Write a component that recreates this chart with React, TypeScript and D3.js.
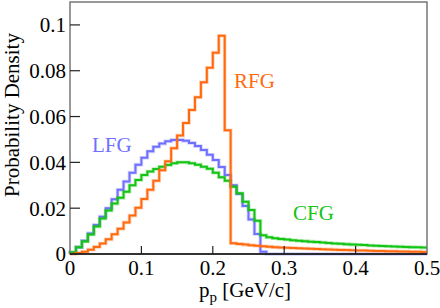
import React from 'react';
import * as d3 from 'd3';

// 60 bins of equal width over 0..0.5 GeV/c
const binEdgesMax = 0.5;
const nBins = 60;

const rfg = [
  0.0000, 0.0004, 0.0010, 0.0019, 0.0031, 0.0046, 0.0064, 0.0086, 0.0110, 0.0138,
  0.0168, 0.0202, 0.0240, 0.0280, 0.0320, 0.0366, 0.0405, 0.0462, 0.0517, 0.0572,
  0.0629, 0.0684, 0.0750, 0.0813, 0.0879, 0.0953, 0.0540, 0.0047, 0.0044, 0.0041,
  0.0038, 0.0036, 0.0034, 0.0032, 0.0030, 0.0028, 0.0027, 0.0026, 0.0025, 0.0024,
  0.0023, 0.0022, 0.0021, 0.0020, 0.0019, 0.0018, 0.0017, 0.0016, 0.0015, 0.0015,
  0.0014, 0.0013, 0.0013, 0.0012, 0.0012, 0.0011, 0.0011, 0.0010, 0.0010, 0.0009,
];

const lfg = [
  0.0005, 0.0030, 0.0058, 0.0090, 0.0127, 0.0163, 0.0200, 0.0239, 0.0280, 0.0316,
  0.0355, 0.0390, 0.0420, 0.0448, 0.0468, 0.0482, 0.0492, 0.0498, 0.0498, 0.0494,
  0.0485, 0.0471, 0.0454, 0.0433, 0.0410, 0.0380, 0.0345, 0.0300, 0.0262, 0.0210,
  0.0151, 0.0087, 0.0010, 0, 0, 0, 0, 0, 0, 0,
  0, 0, 0, 0, 0, 0, 0, 0, 0, 0,
  0, 0, 0, 0, 0, 0, 0, 0, 0, 0,
];

const cfg = [
  0.0008, 0.0030, 0.0055, 0.0085, 0.0120, 0.0155, 0.0190, 0.0220, 0.0245, 0.0272,
  0.0300, 0.0323, 0.0345, 0.0360, 0.0371, 0.0381, 0.0389, 0.0396, 0.0400, 0.0400,
  0.0396, 0.0390, 0.0381, 0.0372, 0.0355, 0.0335, 0.0320, 0.0294, 0.0265, 0.0228,
  0.0192, 0.0145, 0.0082, 0.0073, 0.0069, 0.0066, 0.0063, 0.0060, 0.0058, 0.0056,
  0.0054, 0.0052, 0.0050, 0.0048, 0.0046, 0.0045, 0.0043, 0.0041, 0.0040, 0.0039,
  0.0037, 0.0036, 0.0035, 0.0034, 0.0033, 0.0032, 0.0031, 0.0030, 0.0029, 0.0028,
];

const xTicks = [0, 0.1, 0.2, 0.3, 0.4, 0.5];
const yTicks = [0, 0.02, 0.04, 0.06, 0.08, 0.1];

const series = [
  { name: 'LFG', values: lfg, color: '#7070ff', lx: 92, ly: 152 },
  { name: 'CFG', values: cfg, color: '#14c414', lx: 293, ly: 220 },
  { name: 'RFG', values: rfg, color: '#ff6a10', lx: 234, ly: 88 },
];

const width = 440;
const height = 308;
const margin = { top: 2, right: 13, bottom: 54, left: 70 };
const font = '"Liberation Serif", "Times New Roman", Times, serif';

const App: React.FC = () => {
  const x = d3.scaleLinear().domain([0, binEdgesMax]).range([margin.left, width - margin.right]);
  const y = d3.scaleLinear().domain([0, 0.11]).range([height - margin.bottom, margin.top]);
  const bw = binEdgesMax / nBins;

  const line = d3.line<[number, number]>()
    .x(d => x(d[0]))
    .y(d => y(d[1]))
    .curve(d3.curveStepAfter);

  const toPoints = (vals: number[]): [number, number][] => {
    const pts: [number, number][] = [[0, 0]];
    vals.forEach((v, i) => pts.push([i * bw, v]));
    pts.push([binEdgesMax, vals[vals.length - 1]]);
    return pts;
  };

  const x0 = x(0), x1 = x(0.5), y0 = y(0), y1 = y(0.11);

  return (
    <svg width={width} height={height}
      style={{ position: 'absolute', left: 0, top: 0, background: '#fff', fontFamily: font }}>
      {series.map(s => (
        <g key={s.name}>
          <path d={line(toPoints(s.values)) || ''} fill="none" stroke={s.color} strokeOpacity={0.3} strokeWidth={3.6} />
          <path d={line(toPoints(s.values)) || ''} fill="none" stroke={s.color} strokeWidth={2} />
          <text x={s.lx} y={s.ly} fill={s.color} fontSize={21}>{s.name}</text>
        </g>
      ))}

      {/* frame */}
      <rect x={x0} y={y1} width={x1 - x0} height={y0 - y1} fill="none" stroke="#777" strokeWidth={1.5} />
      <line x1={x0} x2={x1} y1={y0} y2={y0} stroke="#111" strokeWidth={1.5} />

      {yTicks.map(t => (
        <g key={'y' + t}>
          {t > 0 && <line x1={x0} x2={x0 + 10} y1={y(t)} y2={y(t)} stroke="#222" strokeWidth={1.2} />}
          <text x={66} y={y(t)} dy="0.35em" textAnchor="end" fontSize={21}>{t}</text>
        </g>
      ))}
      {xTicks.map(t => (
        <g key={'x' + t}>
          {t > 0 && t < 0.5 && <line x1={x(t)} x2={x(t)} y1={y0} y2={y0 - 8} stroke="#222" strokeWidth={1.2} />}
          <text x={x(t)} y={275} textAnchor="middle" fontSize={21}>{t}</text>
        </g>
      ))}

      <text x={199} y={297} fontSize={21}>
        p<tspan fontSize={15} dy={5}>p</tspan><tspan dy={-5}> [GeV/c]</tspan>
      </text>
      <text transform={`translate(19,115) rotate(-90)`} textAnchor="middle" fontSize={21}>Probability Density</text>
    </svg>
  );
};

export default App;
